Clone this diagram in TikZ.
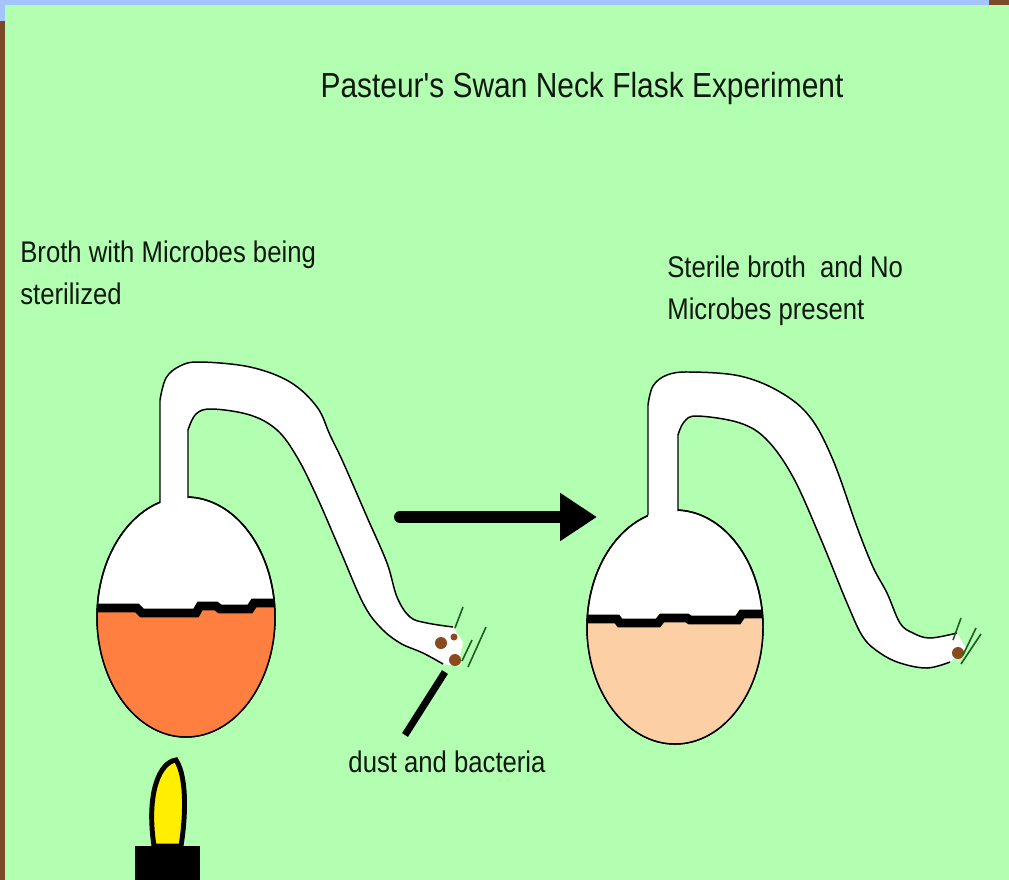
\documentclass[tikz,border=0pt]{standalone}
\usepackage{fontspec}
\usepackage{tikz}
\usetikzlibrary{arrows.meta}
\newfontfamily\labelfont{Liberation Sans}[FakeStretch=0.86]
\definecolor{paper}{HTML}{B2FFB2}
\definecolor{skyband}{HTML}{A4C4FF}
\definecolor{bark}{HTML}{7A4A2A}
\definecolor{hotbroth}{HTML}{FF7F40}
\definecolor{coolbroth}{HTML}{FCCFA5}
\definecolor{germ}{HTML}{8B4A1E}
\definecolor{hair}{HTML}{1F5A1F}
\definecolor{flame}{HTML}{FFEE00}
\definecolor{ink}{HTML}{101810}
\tikzset{
  glass/.style={draw=black,line width=0.85pt,line join=round},
  bulb/.style={glass,fill=white},
  level/.style={line width=5pt,black},
  label/.style={inner sep=0pt,align=left,text=ink,font={\labelfont\fontsize{17}{23.6}\selectfont}},
  titlelbl/.style={label,font={\labelfont\fontsize{19.8}{22}\selectfont}},
  bigarrow/.style={-{Triangle[length=21pt,width=26pt]},line width=6.8pt,line cap=round,black},
  pointer/.style={line width=4pt,black},
  germdot/.style={fill=germ},
  hairline/.style={draw=hair,line width=0.9pt},
}
\begin{document}
\begin{tikzpicture}[x=0.02cm,y=-0.02cm]
  \useasboundingbox (0,0) rectangle (1009,880);
  % frame and panel
  \fill[bark] (0,0) rectangle (1009,880);
  \fill[skyband] (0,0) rectangle (989,5);
  \fill[skyband] (0,0) rectangle (5,21);
  \fill[paper] (5,5) rectangle (1009,880);

  \node[titlelbl] (title) at (582,89) {Pasteur's Swan Neck Flask Experiment};
  \node[label,anchor=west] (lbroth) at (20,273) {Broth with Microbes being\\sterilized};
  \node[label,anchor=west] (rbroth) at (667,291) {Sterile broth\ \ and No\\Microbes present};
  \node[label] (dustlbl) at (447,762) {dust and bacteria};

  % left flask
  \draw[bulb] (186,617) ellipse [x radius=89,y radius=120];
  \begin{scope}
    \clip (186,617) ellipse [x radius=89,y radius=120];
    \fill[hotbroth] (80,608) -- (137,608) -- (142,613) -- (196,613) -- (200,606) -- (216,606) -- (220,609)
      -- (250,609) -- (254,603) -- (290,603) -- (290,760) -- (80,760) -- cycle;
    \draw[level] (80,608) -- (137,608) -- (142,613) -- (196,613) -- (200,606) -- (216,606) -- (220,609)
      -- (250,609) -- (254,603) -- (290,603);
  \end{scope}
  \draw[glass] (186,617) ellipse [x radius=89,y radius=120];
  \fill[white] (160,512) -- (160,400) -- plot[smooth,tension=0.6] coordinates {(160,400) (166,378) (180,366) (200,362)
      (250,367) (290,382) (317,407) (330,435) (343,462) (367,517) (387,563) (397,597) (410,617) (427,623) (453,627)}
    -- (463,642) -- (458,666)
    -- plot[smooth,tension=0.6] coordinates {(443,664) (423,653) (400,643) (380,627) (363,603) (340,550) (317,497)
      (297,457) (277,430) (250,415) (212,409) (196,414) (188,430)} -- (188,512) -- cycle;
  \draw[glass] (160,503) -- (160,400) -- plot[smooth,tension=0.6] coordinates {(160,400) (166,378) (180,366) (200,362)
      (250,367) (290,382) (317,407) (330,435) (343,462) (367,517) (387,563) (397,597) (410,617) (427,623) (453,627)};
  \draw[glass] (188,498) -- (188,430) -- plot[smooth,tension=0.6] coordinates {(188,430) (196,414) (212,409) (250,415)
      (277,430) (297,457) (317,497) (340,550) (363,603) (380,627) (400,643) (423,653) (443,664)};
  \fill[germdot] (441,643) circle [radius=6];
  \fill[germdot] (455,660) circle [radius=6];
  \fill[germdot] (454,637) circle [radius=3.5];
  \draw[hairline] (455,628) -- (463,607);
  \draw[hairline] (462,661) -- (472,640);
  \draw[hairline] (468,667) -- (486,627);

  \coordinate (dust) at (445,672);
  \coordinate (dusttail) at (405,735);
  \draw[pointer] (dust) -- (dusttail);

  % burner under the left flask
  \fill[black] (135,846) rectangle (200,880);
  \draw[line width=2.8pt,fill=flame] (154,846) .. controls (146,792) and (160,762) .. (176,760)
    .. controls (188,778) and (185,822) .. (181,846) -- cycle;

  \coordinate (arrfrom) at (400,517);
  \coordinate (arrto) at (597,517);
  \draw[bigarrow] (arrfrom) -- (arrto);

  % right flask
  \draw[bulb] (675,627) ellipse [x radius=88,y radius=117];
  \begin{scope}
    \clip (675,627) ellipse [x radius=88,y radius=117];
    \fill[coolbroth] (580,619) -- (617,619) -- (620,623) -- (658,623) -- (662,618) -- (687,618) -- (690,620)
      -- (738,620) -- (742,614) -- (770,614) -- (770,760) -- (580,760) -- cycle;
    \draw[level] (580,619) -- (617,619) -- (620,623) -- (658,623) -- (662,618) -- (687,618) -- (690,620)
      -- (738,620) -- (742,614) -- (770,614);
  \end{scope}
  \draw[glass] (675,627) ellipse [x radius=88,y radius=117];
  \fill[white] (648,525) -- (648,405) -- plot[smooth,tension=0.6] coordinates {(648,405) (653,386) (667,375) (690,372)
      (740,376) (780,392) (810,417) (833,460) (857,527) (873,567) (887,593) (900,623) (913,633) (930,638) (957,633)}
    -- (966,648) -- (950,662)
    -- plot[smooth,tension=0.6] coordinates {(950,662) (927,668) (900,663) (880,653) (863,637) (847,603) (820,537)
      (793,477) (767,440) (740,423) (697,416) (684,422) (678,435)} -- (678,525) -- cycle;
  \draw[glass] (648,515) -- (648,405) -- plot[smooth,tension=0.6] coordinates {(648,405) (653,386) (667,375) (690,372)
      (740,376) (780,392) (810,417) (833,460) (857,527) (873,567) (887,593) (900,623) (913,633) (930,638) (957,633)};
  \draw[glass] (678,511) -- (678,435) -- plot[smooth,tension=0.6] coordinates {(678,435) (684,422) (697,416) (740,423)
      (767,440) (793,477) (820,537) (847,603) (863,637) (880,653) (900,663) (927,668) (950,662)};
  \fill[germdot] (958,653) circle [radius=6];
  \draw[hairline] (953,640) -- (961,618);
  \draw[hairline] (963,655) -- (976,628);
  \draw[hairline] (961,664) -- (981,634);
\end{tikzpicture}
\end{document}
